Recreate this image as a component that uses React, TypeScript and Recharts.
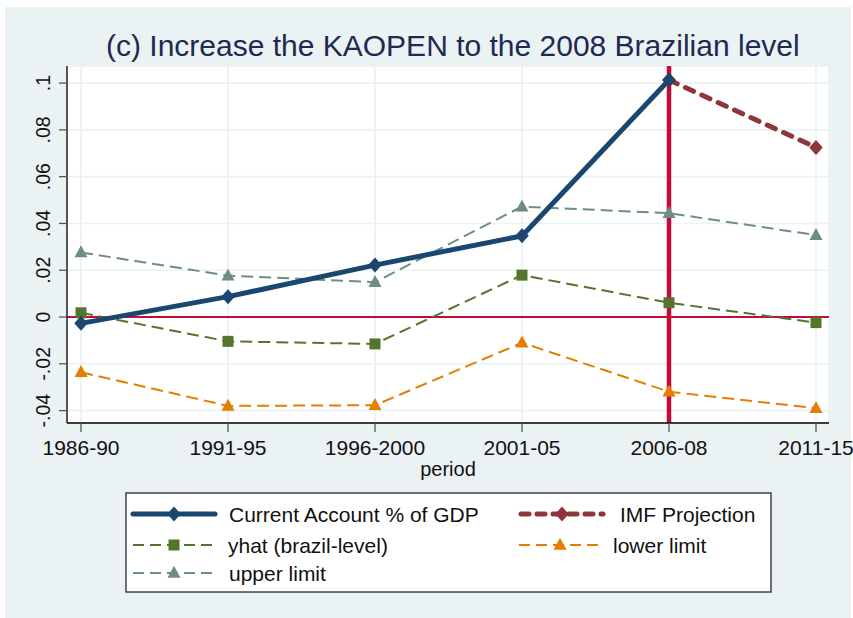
import React from 'react';
import { LineChart, Line, XAxis, YAxis, CartesianGrid, ReferenceLine } from 'recharts';

const periods = ['1986-90', '1991-95', '1996-2000', '2001-05', '2006-08', '2011-15'];
const currentAccount = [-0.0027, 0.0087, 0.0222, 0.0347, 0.1013, null];
const imfProjection = [null, null, null, null, 0.1013, 0.0725];
const yhat = [0.0018, -0.0104, -0.0115, 0.0179, 0.0061, -0.0024];
const lowerLimit = [-0.0236, -0.038, -0.0377, -0.011, -0.0319, -0.039];
const upperLimit = [0.0276, 0.0177, 0.0149, 0.0472, 0.0444, 0.035];
const yTicks = [-0.04, -0.02, 0, 0.02, 0.04, 0.06, 0.08, 0.1];

const data = periods.map((p, i) => ({
  period: p,
  ca: currentAccount[i],
  imf: imfProjection[i],
  yhat: yhat[i],
  lower: lowerLimit[i],
  upper: upperLimit[i],
}));

const C_NAVY = '#1a476f';
const C_MAROON = '#90353b';
const C_GREEN = '#55752f';
const C_ORANGE = '#e37e00';
const C_GRAY = '#6e8e84';
const C_RED = '#c30a3a';
const FONT = '"Liberation Sans", Arial, Helvetica, sans-serif';

const fmt = (v: number) => String(+v.toFixed(2)).replace('0.', '.');

const diamondPath = (cx: number, cy: number, r: number) =>
  `M${cx},${cy - r}L${cx + r * 0.9},${cy}L${cx},${cy + r}L${cx - r * 0.9},${cy}Z`;
const squarePath = (cx: number, cy: number, s: number) =>
  `M${cx - s / 2},${cy - s / 2}h${s}v${s}h${-s}Z`;
const trianglePath = (cx: number, cy: number, w: number, h: number) =>
  `M${cx},${cy - h * 0.6}L${cx + w / 2},${cy + h * 0.4}L${cx - w / 2},${cy + h * 0.4}Z`;

const makeDot = (kind: string, color: string) => (props: any) => {
  const { cx, cy, value, index } = props;
  if (value == null || cx == null || cy == null) return <g key={`e${index}`} />;
  let d = '';
  if (kind === 'diamond') d = diamondPath(cx, cy, 7.5);
  else if (kind === 'square') d = squarePath(cx, cy, 11);
  else d = trianglePath(cx, cy, 13, 12);
  return <path key={`d${index}`} d={d} fill={color} stroke="none" />;
};

const YTick = (props: any) => {
  const { x, y, payload } = props;
  const tx = x - 7;
  return (
    <text
      x={tx}
      y={y}
      transform={`rotate(-90, ${tx}, ${y})`}
      textAnchor="middle"
      fontSize={19.5}
      fontFamily={FONT}
      fill="#111"
    >
      {fmt(payload.value)}
    </text>
  );
};

const XTick = (props: any) => {
  const { x, y, payload } = props;
  return (
    <text x={x} y={y + 21} textAnchor="middle" fontSize={21} fontFamily={FONT} fill="#111">
      {payload.value}
    </text>
  );
};

const legendItems = [
  { label: 'Current Account % of GDP', color: C_NAVY, kind: 'diamond', width: 5, dash: undefined as string | undefined, cap: 'round', x: 133, y: 514, tx: 229 },
  { label: 'IMF Projection', color: C_MAROON, kind: 'diamond', width: 5, dash: '8 8', cap: 'round', x: 521, y: 514, tx: 620 },
  { label: 'yhat (brazil-level)', color: C_GREEN, kind: 'square', width: 2, dash: '11 6', cap: 'butt', x: 133, y: 545, tx: 228 },
  { label: 'lower limit', color: C_ORANGE, kind: 'triangle', width: 2, dash: '11 6', cap: 'butt', x: 519, y: 545, tx: 613 },
  { label: 'upper limit', color: C_GRAY, kind: 'triangle', width: 2, dash: '11 6', cap: 'butt', x: 133, y: 573, tx: 229 },
];

const Overlay = () => (
  <svg
    width={853}
    height={618}
    style={{ position: 'absolute', left: 0, top: 0, pointerEvents: 'none' }}
  >
    <text x={106} y={56} fontSize={30} fontFamily={FONT} fill="#1e2a52">
      (c) Increase the KAOPEN to the 2008 Brazilian level
    </text>
    <rect x={126} y={493} width={645} height={99} fill="#fff" stroke="#444" strokeWidth={1.5} />
    {legendItems.map((it) => {
      const cx = it.x + 41;
      let d = '';
      if (it.kind === 'diamond') d = diamondPath(cx, it.y, 7.5);
      else if (it.kind === 'square') d = squarePath(cx, it.y, 11);
      else d = trianglePath(cx, it.y, 13, 12);
      return (
        <g key={it.label}>
          <line
            x1={it.x}
            y1={it.y}
            x2={it.x + (it.cap === 'round' ? 82 : 84)}
            y2={it.y}
            stroke={it.color}
            strokeWidth={it.width}
            strokeDasharray={it.dash}
            strokeLinecap={it.cap as any}
          />
          <path d={d} fill={it.color} />
          <text x={it.tx} y={it.y + 7.5} fontSize={21} fontFamily={FONT} fill="#111">
            {it.label}
          </text>
        </g>
      );
    })}
  </svg>
);

export default function App() {
  return (
    <div style={{ position: 'absolute', left: 0, top: 0, width: 853, height: 618, background: '#fff', fontFamily: FONT }}>
      <div style={{ position: 'absolute', left: 5, top: 7, width: 846, height: 611, background: '#eaf2f3' }} />
      <div style={{ position: 'absolute', left: 0, top: 0 }}>
        <LineChart
          width={853}
          height={618}
          data={data}
          margin={{ top: 66, right: 24, bottom: 135, left: 5 }}
        >
          <CartesianGrid fill="#ffffff" stroke="#eaf2f3" strokeWidth={1.6} horizontal vertical />
          <XAxis
            dataKey="period"
            type="category"
            padding={{ left: 14, right: 13 }}
            height={60}
            axisLine={{ stroke: '#000', strokeWidth: 1.3 }}
            tickLine={{ stroke: '#555', strokeWidth: 1.3 }}
            tickSize={9}
            tickMargin={2}
            tick={<XTick />}
            interval={0}
            label={{ value: 'period', position: 'insideBottom', offset: 7, fontSize: 20, fill: '#111', fontFamily: FONT }}
          />
          <YAxis
            type="number"
            domain={[-0.0453, 0.1073]}
            ticks={yTicks}
            width={62}
            allowDataOverflow
            axisLine={{ stroke: '#000', strokeWidth: 1.3 }}
            tickLine={{ stroke: '#555', strokeWidth: 1.3 }}
            tickSize={8}
            tickMargin={2}
            tick={<YTick />}
            interval={0}
          />
          <ReferenceLine y={0} stroke={C_RED} strokeWidth={2.2} />
          <ReferenceLine x="2006-08" stroke={C_RED} strokeWidth={4.5} />
          <Line dataKey="upper" stroke={C_GRAY} strokeWidth={2} strokeDasharray="12 6" dot={makeDot('triangle', C_GRAY)} isAnimationActive={false} />
          <Line dataKey="lower" stroke={C_ORANGE} strokeWidth={2} strokeDasharray="12 6" dot={makeDot('triangle', C_ORANGE)} isAnimationActive={false} />
          <Line dataKey="yhat" stroke={C_GREEN} strokeWidth={2} strokeDasharray="12 6" dot={makeDot('square', C_GREEN)} isAnimationActive={false} />
          <Line dataKey="imf" stroke={C_MAROON} strokeWidth={5} strokeDasharray="9 9" strokeLinecap="round" dot={makeDot('diamond', C_MAROON)} isAnimationActive={false} />
          <Line dataKey="ca" stroke={C_NAVY} strokeWidth={5} dot={makeDot('diamond', C_NAVY)} isAnimationActive={false} />
        </LineChart>
      </div>
      <Overlay />
    </div>
  );
}
